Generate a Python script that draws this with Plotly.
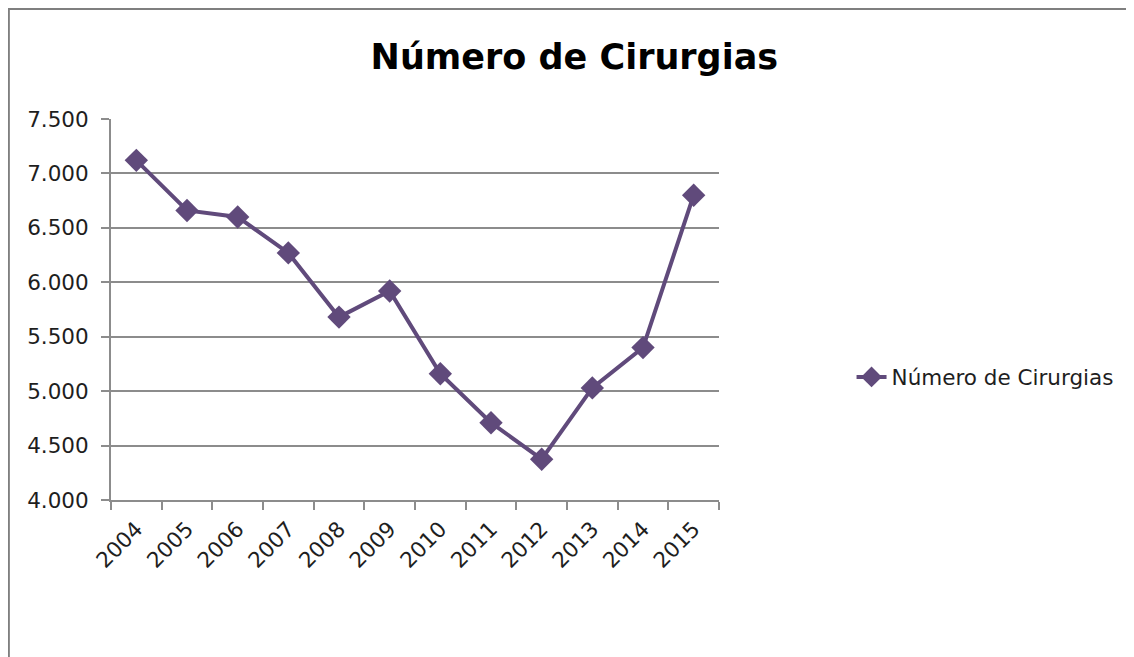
import plotly.graph_objects as go

anos = ["2004", "2005", "2006", "2007", "2008", "2009",
        "2010", "2011", "2012", "2013", "2014", "2015"]
cirurgias = [7120, 6660, 6600, 6270, 5680, 5920,
             5160, 4710, 4375, 5030, 5400, 6800]

COR = "#604A7B"
GRID = "#8C8C8C"
FONTE = "'DejaVu Sans', sans-serif"

fig = go.Figure()
fig.add_trace(go.Scatter(
    x=anos, y=cirurgias, mode="lines+markers",
    name="Número de Cirurgias",
    line=dict(color=COR, width=4),
    marker=dict(symbol="diamond", size=18, color=COR),
))

# moldura do gráfico (estilo Excel)
fig.add_shape(type="rect", xref="paper", yref="paper",
              x0=-0.168, x1=1.6727, y0=-0.45, y1=1.289,
              line=dict(color="#7F7F7F", width=2), layer="below")

fig.update_layout(
    width=1126, height=649,
    title=dict(text="<b>Número de Cirurgias</b>", x=0.503, xanchor="center",
               y=0.925, yanchor="middle", xref="container", yref="container",
               font=dict(size=35, color="#000000", family=FONTE)),
    separators=",.",
    font=dict(family=FONTE, size=21, color="#1E1E1E"),
    plot_bgcolor="white", paper_bgcolor="white",
    margin=dict(l=103, r=415, t=111, b=157),
    showlegend=True,
    legend=dict(x=1.218, y=0.323, xanchor="left", yanchor="middle",
                font=dict(size=21.5, color="#1E1E1E"), bgcolor="rgba(0,0,0,0)"),
    xaxis=dict(type="category", range=[-0.5, 11.5], tickangle=-45,
               showline=True, linecolor=GRID, linewidth=2,
               ticks="outside", ticklen=8, tickcolor=GRID, tickwidth=2,
               tickson="boundaries", showgrid=False, ticklabelstandoff=6,
               tickfont=dict(size=21.5)),
    yaxis=dict(range=[4000, 7500], dtick=500, tickformat=",d",
               showline=True, linecolor=GRID, linewidth=2,
               ticks="outside", ticklen=8, tickcolor=GRID, tickwidth=2,
               gridcolor=GRID, gridwidth=2, zeroline=False,
               ticklabelstandoff=8, tickfont=dict(size=21.5)),
)

fig.write_html("out.html")
